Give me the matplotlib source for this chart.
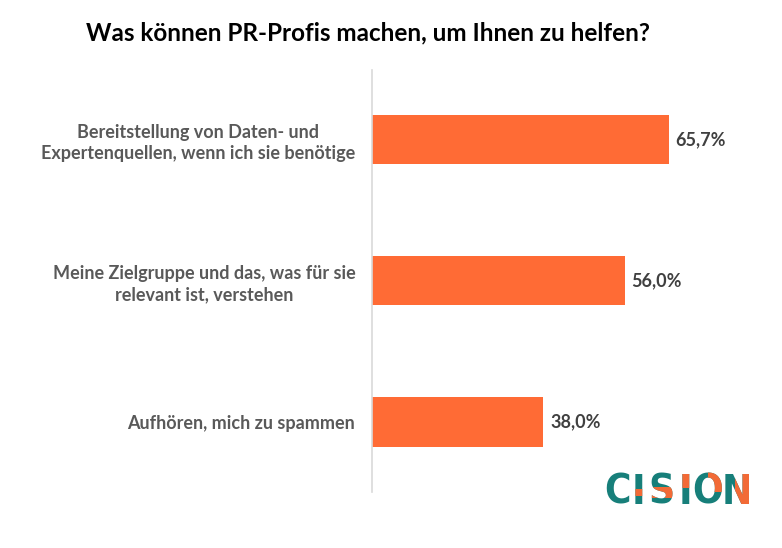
import matplotlib
matplotlib.use("Agg")
import matplotlib.pyplot as plt
from matplotlib.patches import Rectangle
from matplotlib import font_manager

categories = [
    "Bereitstellung von Daten- und\nExpertenquellen, wenn ich sie benötige",
    "Meine Zielgruppe und das, was für sie\nrelevant ist, verstehen",
    "Aufhören, mich zu spammen",
]
values = [65.7, 56.0, 38.0]
value_labels = ["65,7%", "56,0%", "38,0%"]
title = "Was können PR-Profis machen, um Ihnen zu helfen?"
logo_letters = ["C", "I", "S", "I", "O", "N"]

BAR = "#FF6B35"
TEAL = "#177F7A"
ORANGE = "#F26A36"
FONT = "Lato"

names = {f.name for f in font_manager.fontManager.ttflist}
LOGO_FONT = "Liberation Sans Narrow" if "Liberation Sans Narrow" in names else "DejaVu Sans"

W, H = 782, 548
fig = plt.figure(figsize=(W / 100, H / 100), dpi=100)
fig.patch.set_facecolor("white")

ax_left, ax_right, ax_top, ax_bot = 372, 740, 70, 492
ax = fig.add_axes([ax_left / W, 1 - ax_bot / H, (ax_right - ax_left) / W, (ax_bot - ax_top) / H])
ypos = list(range(len(categories)))
ax.barh(ypos, values, height=0.35, color=BAR, zorder=2)
ax.set_xlim(0, (ax_right - ax_left) / (296.5 / 65.7))
ax.set_ylim(2.496, -0.493)
for s in ["top", "right", "bottom"]:
    ax.spines[s].set_visible(False)
ax.spines["left"].set_color("#D9D9D9")
ax.spines["left"].set_linewidth(1.2)
ax.set_xticks([])
ax.set_yticks(ypos)
ax.set_yticklabels(categories, fontsize=13, fontweight="bold", color="#595959",
                   family=FONT, ha="right", multialignment="center", linespacing=1.25)
ax.tick_params(axis="y", length=0, pad=12)
for y, v, lab in zip(ypos, values, value_labels):
    ax.annotate(lab, (v, y), xytext=(5, 0), textcoords="offset points",
                va="center", ha="left", fontsize=13, fontweight="bold",
                color="#404040", family=FONT)

fig.text(368 / W, 1 - 33 / H, title, ha="center", va="center", fontsize=17.5,
         fontweight="bold", color="black", family=FONT)

# CISION logo: teal letters with orange segments (clipped copies)
centers = [617, 638, 661, 685, 708, 737]
ly = 493
orange_parts = {
    1: [(-10, 489, 20, 7)],
    2: [(-15, 487, 30, 11)],
    3: [(-10, 472, 20, 16)],
    4: [(0, 472, 15, 20)],
    5: [(-2, 472, 20, 42)],
}
for i, (ch, cx) in enumerate(zip(logo_letters, centers)):
    kw = dict(ha="center", va="center", fontsize=29, fontweight="bold",
              family=LOGO_FONT, fontstretch="condensed")
    fig.text(cx / W, 1 - ly / H, ch, color=TEAL, **kw)
    for dx, top, w, h in orange_parts.get(i, []):
        t = fig.text(cx / W, 1 - ly / H, ch, color=ORANGE, **kw)
        clip = Rectangle((cx + dx, H - top - h), w, h, transform=None)
        t.set_clip_path(clip)

fig.savefig("out.png", dpi=100)
